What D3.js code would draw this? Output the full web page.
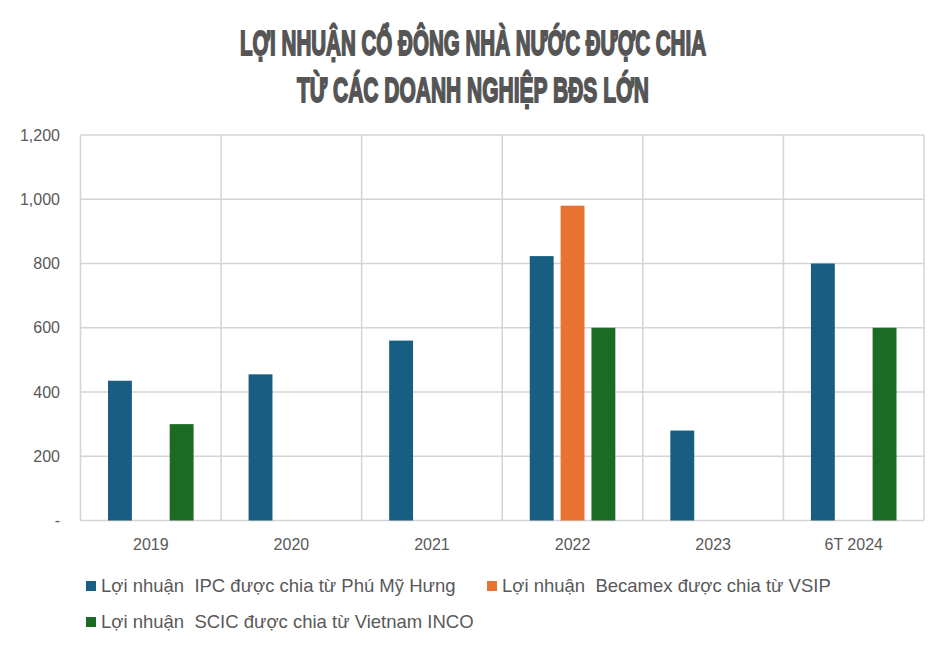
<!DOCTYPE html>
<html>
<head>
<meta charset="utf-8">
<script src="https://cdn.jsdelivr.net/npm/d3@7"></script>
<style>
  body { margin: 0; background: #fff; }
  text { font-family: "Liberation Sans", Arial, sans-serif; fill: #595959; }
</style>
</head>
<body>
<div id="chart"></div>
<script>
var categories = ["2019", "2020", "2021", "2022", "2023", "6T 2024"];
var seriesNames = [
    "Lợi nhuận  IPC được chia từ Phú Mỹ Hưng",
    "Lợi nhuận  Becamex được chia từ VSIP",
    "Lợi nhuận  SCIC được chia từ Vietnam INCO"
];
var ipcValues = [435, 455, 560, 823, 280, 800];
var becamexValues = [0, 0, 0, 980, 0, 0];
var scicValues = [300, 0, 0, 600, 0, 600];
var yTicks = [0, 200, 400, 600, 800, 1000, 1200];
var titleLines = ["LỢI NHUẬN CỔ ĐÔNG NHÀ NƯỚC ĐƯỢC CHIA", "TỪ CÁC DOANH NGHIỆP BĐS LỚN"];

var width = 946, height = 649;
var color = ["#175e82", "#e97132", "#1b6b24"];
var seriesValues = [ipcValues, becamexValues, scicValues];

var svg = d3.select("#chart").append("svg")
    .attr("width", width)
    .attr("height", height);

// tiêu đề
var titleWidths = [466, 352];
svg.selectAll(".title")
    .data(titleLines)
    .enter()
    .append("text")
    .attr("class", "title")
    .attr("x", width / 2)
    .attr("y", function(d, i) { return i === 0 ? 55 : 102; })
    .attr("text-anchor", "middle")
    .attr("textLength", function(d, i) { return titleWidths[i]; })
    .attr("lengthAdjust", "spacingAndGlyphs")
    .style("font-size", "35px")
    .style("font-weight", "bold")
    .style("fill", "#555555")
    .style("stroke", "#555555")
    .style("stroke-width", 1.8)
    .text(function(d) { return d; });

var plotLeft = 80.5, plotRight = 924, plotTop = 135, plotBottom = 520.5;

var yScale = d3.scaleLinear()
    .domain([0, 1200])
    .range([plotBottom, plotTop]);

var xScale = d3.scaleBand()
    .domain(categories)
    .range([plotLeft, plotRight]);

var inner = d3.scaleBand()
    .domain(d3.range(seriesNames.length))
    .range([27.5, xScale.bandwidth() - 27.5])
    .paddingInner(7 / 31);

// lưới ngang
svg.append("g")
    .selectAll("line")
    .data(yTicks)
    .enter()
    .append("line")
    .attr("x1", plotLeft)
    .attr("x2", plotRight)
    .attr("y1", function(d) { return yScale(d); })
    .attr("y2", function(d) { return yScale(d); })
    .attr("stroke", "#d4d4d4")
    .attr("stroke-width", 1.5);

// lưới dọc
var vlines = categories.map(function(c) { return xScale(c); }).concat([plotRight]);
svg.append("g")
    .selectAll("line")
    .data(vlines)
    .enter()
    .append("line")
    .attr("x1", function(d) { return d; })
    .attr("x2", function(d) { return d; })
    .attr("y1", plotTop)
    .attr("y2", plotBottom)
    .attr("stroke", "#d4d4d4")
    .attr("stroke-width", 1.5);

// trục y
var yAxis = d3.axisLeft(yScale)
    .tickValues(yTicks)
    .tickSize(0)
    .tickPadding(0)
    .tickFormat(function(d) { return d === 0 ? "-" : d3.format(",")(d); });

var gy = svg.append("g")
    .attr("transform", "translate(60,0)")
    .call(yAxis);
gy.select(".domain").remove();
gy.selectAll("text")
    .style("font-size", "16px")
    .attr("fill", "#595959");

// trục x
var xAxis = d3.axisBottom(xScale)
    .tickSize(0)
    .tickPadding(0);
var gx = svg.append("g")
    .attr("transform", "translate(0,539)")
    .call(xAxis);
gx.select(".domain").remove();
gx.selectAll("text")
    .style("font-size", "16px")
    .attr("fill", "#595959");

// cột
seriesValues.forEach(function(vals, s) {
    var bars = vals.map(function(v, i) { return { cat: categories[i], value: v }; })
        .filter(function(d) { return d.value > 0; });
    svg.append("g")
        .selectAll("rect")
        .data(bars)
        .enter()
        .append("rect")
        .attr("x", function(d) { return xScale(d.cat) + inner(s); })
        .attr("y", function(d) { return yScale(d.value); })
        .attr("width", inner.bandwidth())
        .attr("height", function(d) { return plotBottom - yScale(d.value); })
        .attr("fill", color[s]);
});

// chú thích
var legendPos = [[86, 581], [487, 581], [86, 617]];
var legend = svg.selectAll(".legend")
    .data(seriesNames)
    .enter()
    .append("g")
    .attr("class", "legend")
    .attr("transform", function(d, i) { return "translate(" + legendPos[i][0] + "," + legendPos[i][1] + ")"; });

legend.append("rect")
    .attr("width", 10)
    .attr("height", 10)
    .attr("fill", function(d, i) { return color[i]; });

legend.append("text")
    .attr("x", 15)
    .attr("y", 11)
    .style("font-size", "18.5px")
    .style("white-space", "pre")
    .text(function(d) { return d; });
</script>
</body>
</html>
